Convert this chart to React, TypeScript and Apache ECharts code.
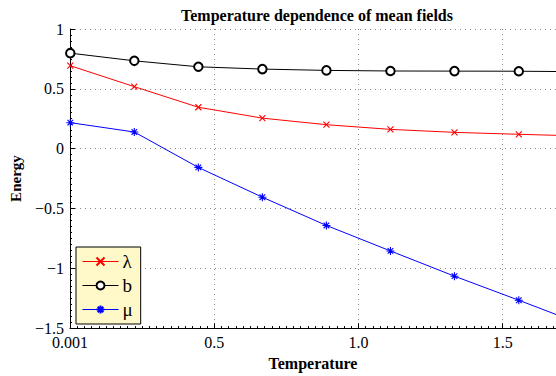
import React, { useEffect, useRef } from "react";
import * as echarts from "echarts";

const temperature = [0.001, 0.223, 0.445, 0.667, 0.889, 1.111, 1.333, 1.556, 1.778];
const lambdaVals = [0.693, 0.518, 0.346, 0.255, 0.2, 0.161, 0.136, 0.12, 0.105];
const bVals = [0.798, 0.734, 0.684, 0.665, 0.654, 0.649, 0.648, 0.647, 0.643];
const muVals = [0.217, 0.139, -0.157, -0.406, -0.642, -0.855, -1.066, -1.267, -1.472];
const xTickValues = [0, 0.5, 1, 1.5];
const xTickLabels = ["0.001", "0.5", "1.0", "1.5"];
const seriesNames = ["λ", "b", "μ"];

const FONT = "'Liberation Serif', 'DejaVu Serif', serif";

const crossPath = "path://M0,0L10,10M10,0L0,10";
const starPath = "path://M5,0L5,10M0,5L10,5M1.5,1.5L8.5,8.5M8.5,1.5L1.5,8.5";

export default function App() {
  const ref = useRef<HTMLDivElement>(null);
  useEffect(() => {
    if (!ref.current) return;
    const chart = echarts.init(ref.current, undefined, { renderer: "svg" });
    const pairs = (ys: number[]) => temperature.map((t, i) => [t, ys[i]]);
    chart.setOption({
      animation: false,
      title: {
        text: "Temperature dependence of mean fields",
        left: 312,
        textAlign: "center",
        top: 2,
        textStyle: { fontFamily: FONT, fontWeight: "bold", fontSize: 16, color: "#000" },
      },
      grid: { left: 69, top: 29, right: 0, bottom: 45, containLabel: false },
      legend: {
        orient: "vertical",
        left: 76,
        top: 247,
        data: seriesNames,
        backgroundColor: "#fff8c8",
        borderColor: "#000",
        borderWidth: 1,
        borderRadius: 0,
        padding: [5, 8, 5, 6],
        itemGap: 5,
        itemWidth: 36,
        itemHeight: 10,
        lineStyle: { width: 1 },
        textStyle: { fontFamily: FONT, fontSize: 19, color: "#000", padding: [0, 0, 0, -1] },
      },
      xAxis: {
        type: "value",
        min: 0,
        max: 1.685,
        interval: 0.5,
        name: "Temperature",
        nameLocation: "middle",
        nameGap: 26,
        nameTextStyle: { fontFamily: FONT, fontWeight: "bold", fontSize: 16, color: "#000" },
        axisLine: { show: true, onZero: false, lineStyle: { color: "#000", width: 1 } },
        axisTick: { show: true, inside: true, length: 5, lineStyle: { color: "#000" } },
        minorTick: { show: true, splitNumber: 20, length: 2, lineStyle: { color: "#000" } },
        axisLabel: {
          fontFamily: FONT,
          fontSize: 16,
          color: "#000",
          margin: 6,
          showMaxLabel: false,
          formatter: (v: number) => {
            const idx = xTickValues.findIndex((t) => Math.abs(t - v) < 1e-6);
            return idx >= 0 ? xTickLabels[idx] : "";
          },
        },
        splitLine: { show: true, lineStyle: { color: "#888", type: [1, 4], width: 1 } },
      },
      yAxis: {
        type: "value",
        min: -1.5,
        max: 1,
        interval: 0.5,
        name: "Energy",
        nameLocation: "middle",
        nameGap: 47,
        nameTextStyle: { fontFamily: FONT, fontWeight: "bold", fontSize: 15, color: "#000" },
        axisLine: { show: true, lineStyle: { color: "#000", width: 1 } },
        axisTick: { show: true, inside: true, length: 5, lineStyle: { color: "#000" } },
        minorTick: { show: true, splitNumber: 10, length: 2, lineStyle: { color: "#000" } },
        axisLabel: {
          fontFamily: FONT,
          fontSize: 16,
          color: "#000",
          margin: 6,
          formatter: (v: number) => String(v).replace("-", "\u2212"),
        },
        splitLine: { show: true, lineStyle: { color: "#888", type: [1, 4], width: 1 } },
      },
      series: [
        {
          name: seriesNames[0],
          type: "line",
          data: pairs(lambdaVals),
          symbol: crossPath,
          symbolSize: 6,
          showAllSymbol: true,
          lineStyle: { color: "#ff0000", width: 1 },
          itemStyle: { color: "#ff0000", borderColor: "#ff0000", borderWidth: 1.1 },
        },
        {
          name: seriesNames[1],
          type: "line",
          data: pairs(bVals),
          symbol: "emptyCircle",
          symbolSize: 8.5,
          showAllSymbol: true,
          lineStyle: { color: "#000", width: 1 },
          itemStyle: { color: "#000", borderColor: "#000", borderWidth: 1.1 },
        },
        {
          name: seriesNames[2],
          type: "line",
          data: pairs(muVals),
          symbol: starPath,
          symbolSize: 8,
          showAllSymbol: true,
          lineStyle: { color: "#0000ff", width: 1 },
          itemStyle: { color: "#0000ff", borderColor: "#0000ff", borderWidth: 1.1 },
        },
      ],
    });
    return () => chart.dispose();
  }, []);
  return (
    <div
      ref={ref}
      style={{ position: "fixed", left: 0, top: 0, width: 556, height: 376, background: "#fff" }}
    />
  );
}
